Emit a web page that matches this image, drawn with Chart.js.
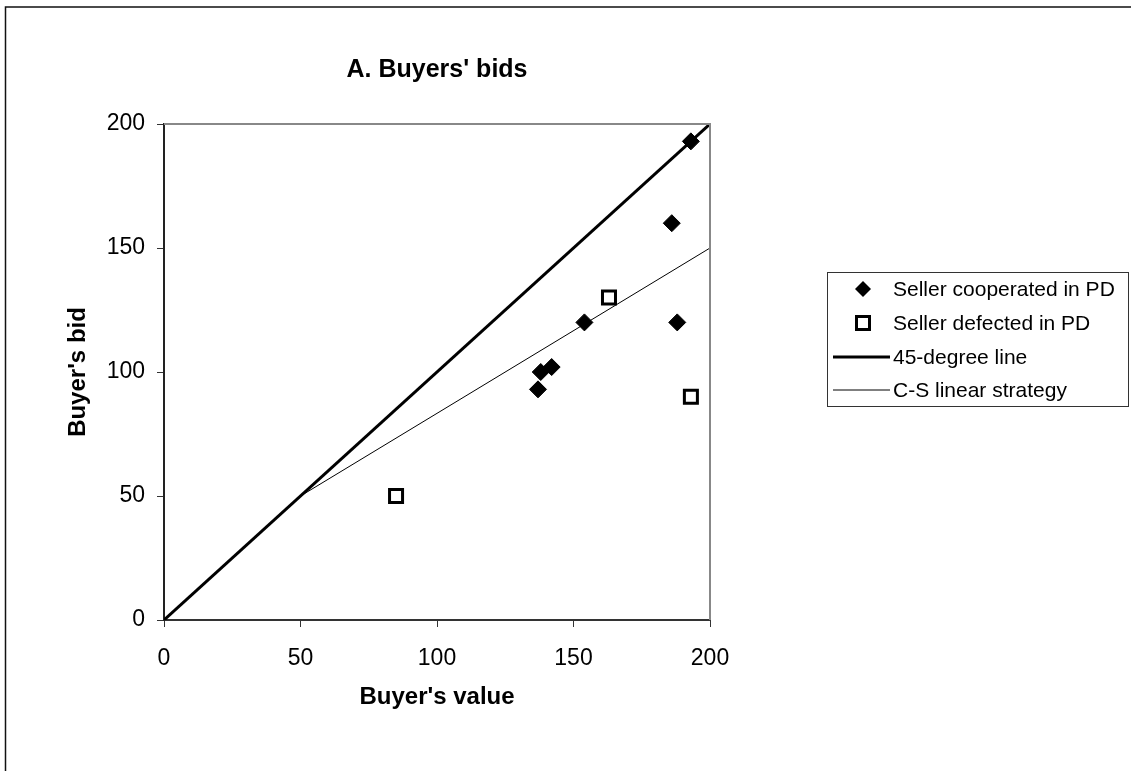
<!DOCTYPE html>
<html>
<head>
<meta charset="utf-8">
<script src="https://cdn.jsdelivr.net/npm/chart.js@4.4.1/dist/chart.umd.min.js"></script>
<style>
html,body{margin:0;padding:0;background:#fff;}
#wrap{position:relative;width:1131px;height:771px;}
canvas{display:block;}
</style>
</head>
<body>
<div id="wrap"><canvas id="c" width="1131" height="771"></canvas></div>
<script>
// ---- data ----
const chartTitle = "A. Buyers' bids";
const xAxisTitle = "Buyer's value";
const yAxisTitle = "Buyer's bid";
const seriesNames = ["Seller cooperated in PD", "Seller defected in PD", "45-degree line", "C-S linear strategy"];
const coopX = [193, 186, 188, 154, 142, 138, 137];
const coopY = [193, 160, 120, 120, 102, 100, 93];
const defectX = [163, 193, 85];
const defectY = [130, 90, 50];
const line45X = [0, 200];
const line45Y = [0, 200];
const csLineX = [50, 200];
const csLineY = [50, 150];
const axisMin = 0, axisMax = 200, axisStep = 50;

const FONT = "'Liberation Sans', Arial, Helvetica, sans-serif";
const toPts = (xs, ys) => xs.map((x, i) => ({x: x, y: ys[i]}));

const bgPlugin = {
  id: 'bg',
  beforeDraw(chart) {
    const ctx = chart.ctx;
    ctx.save();
    ctx.fillStyle = '#fff';
    ctx.fillRect(0, 0, chart.width, chart.height);
    ctx.strokeStyle = '#111';
    ctx.lineWidth = 1.5;
    ctx.strokeRect(5.5, 7, 2000, 2000);
    ctx.restore();
  },
  afterDraw(chart) {
    const ctx = chart.ctx;
    const a = chart.chartArea;
    ctx.save();
    // grey top & right frame of plot area
    ctx.strokeStyle = '#888';
    ctx.lineWidth = 2;
    ctx.beginPath();
    ctx.moveTo(a.left, a.top);
    ctx.lineTo(a.right, a.top);
    ctx.lineTo(a.right, a.bottom);
    ctx.stroke();
    // legend
    const bx = 827, by = 272, bw = 301, bh = 134;
    ctx.strokeStyle = '#333';
    ctx.lineWidth = 1;
    ctx.strokeRect(bx + 0.5, by + 0.5, bw, bh);
    const rows = [289, 323, 357, 390];
    ctx.font = '21px ' + FONT;
    ctx.fillStyle = '#000';
    ctx.textBaseline = 'middle';
    ctx.textAlign = 'left';
    chart.data.datasets.forEach((ds, i) => {
      const y = rows[i];
      const mx = 863;
      ctx.save();
      if (ds.showLine) {
        ctx.strokeStyle = ds.borderColor;
        ctx.lineWidth = ds.borderWidth;
        ctx.beginPath();
        ctx.moveTo(833, y);
        ctx.lineTo(890, y);
        ctx.stroke();
      } else if (ds.pointStyle === 'rectRot') {
        ctx.fillStyle = '#000';
        ctx.beginPath();
        ctx.moveTo(mx, y - 8);
        ctx.lineTo(mx + 8, y);
        ctx.lineTo(mx, y + 8);
        ctx.lineTo(mx - 8, y);
        ctx.closePath();
        ctx.fill();
      } else {
        ctx.strokeStyle = '#000';
        ctx.lineWidth = 3;
        ctx.fillStyle = '#fff';
        ctx.fillRect(mx - 6.5, y - 6.5, 13, 13);
        ctx.strokeRect(mx - 6.5, y - 6.5, 13, 13);
      }
      ctx.restore();
      ctx.fillText(ds.label, 893, y + 1);
    });
    ctx.restore();
  }
};

new Chart(document.getElementById('c'), {
  type: 'scatter',
  data: {
    datasets: [
      {
        label: seriesNames[0],
        data: toPts(coopX, coopY),
        pointStyle: 'rectRot',
        pointRadius: 8.5,
        pointHoverRadius: 8.5,
        backgroundColor: '#000',
        borderColor: '#000',
        borderWidth: 1,
        showLine: false,
        order: 0
      },
      {
        label: seriesNames[1],
        data: toPts(defectX, defectY),
        pointStyle: 'rect',
        pointRadius: 9.2,
        pointHoverRadius: 9.2,
        backgroundColor: '#fff',
        borderColor: '#000',
        borderWidth: 3,
        showLine: false,
        order: 0
      },
      {
        label: seriesNames[2],
        data: toPts(line45X, line45Y),
        showLine: true,
        borderColor: '#000',
        borderWidth: 3,
        pointRadius: 0,
        pointHoverRadius: 0,
        fill: false,
        order: 1
      },
      {
        label: seriesNames[3],
        data: toPts(csLineX, csLineY),
        showLine: true,
        borderColor: '#000',
        borderWidth: 1,
        pointRadius: 0,
        pointHoverRadius: 0,
        fill: false,
        order: 1
      }
    ]
  },
  options: {
    responsive: false,
    animation: false,
    events: [],
    layout: { padding: { top: 0, right: 421, bottom: 0, left: 0 } },
    plugins: {
      legend: { display: false },
      tooltip: { enabled: false },
      title: {
        display: true,
        text: chartTitle,
        fullSize: false,
        color: '#000',
        font: { family: FONT, size: 25, weight: 'bold' },
        padding: { top: 55, bottom: 39 }
      }
    },
    scales: {
      x: {
        type: 'linear',
        min: axisMin, max: axisMax,
        afterFit(s) { s.height = 151; },
        ticks: { stepSize: axisStep, color: '#000', padding: 18, font: { family: FONT, size: 23 }, maxRotation: 0 },
        grid: { drawOnChartArea: false, drawTicks: true, tickLength: 7, color: '#333', lineWidth: 1 },
        border: { display: true, color: '#333', width: 2 },
        title: { display: true, text: xAxisTitle, color: '#000', font: { family: FONT, size: 24, weight: 'bold' }, padding: { top: 0, bottom: 59 } }
      },
      y: {
        type: 'linear',
        min: axisMin, max: axisMax,
        afterFit(s) { s.width = 164; },
        ticks: { stepSize: axisStep, color: '#000', padding: 12, font: { family: FONT, size: 23 } },
        grid: { drawOnChartArea: false, drawTicks: true, tickLength: 7, color: '#333', lineWidth: 1 },
        border: { display: true, color: '#222', width: 2 },
        title: { display: true, text: yAxisTitle, color: '#000', font: { family: FONT, size: 24, weight: 'bold' }, padding: { top: 64, bottom: 0 } }
      }
    }
  },
  plugins: [bgPlugin]
});
</script>
</body>
</html>
